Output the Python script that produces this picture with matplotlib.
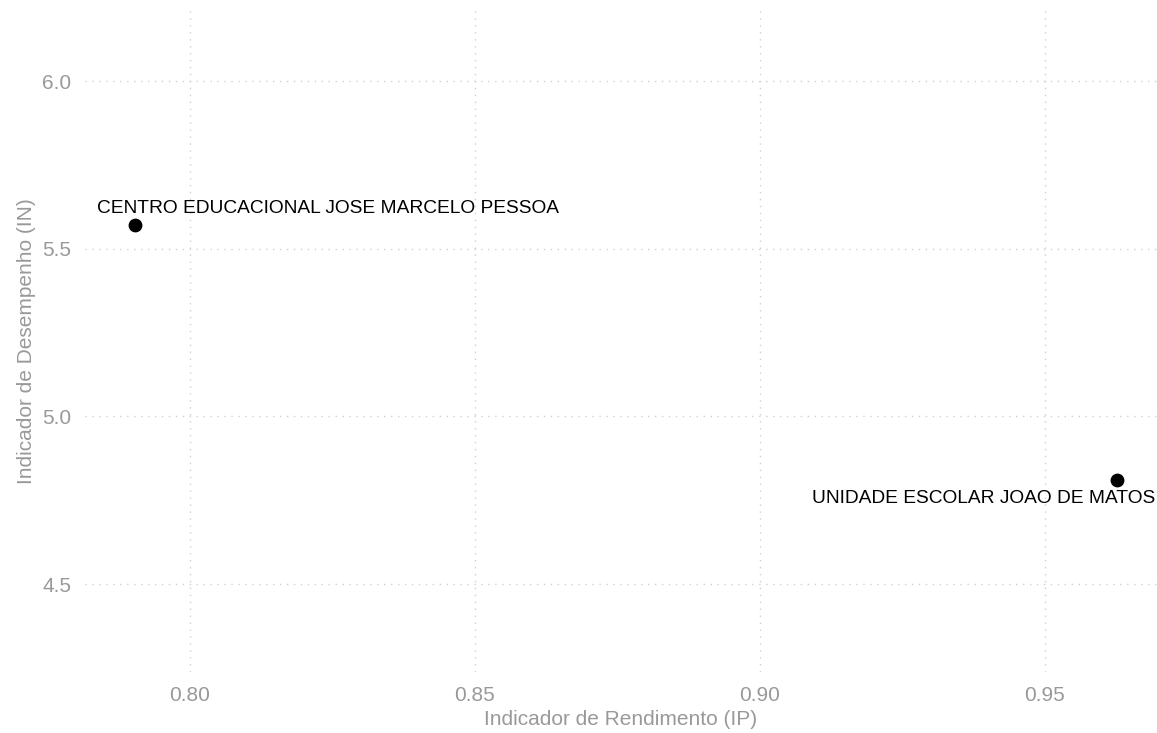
import matplotlib.pyplot as plt

plt.rcParams['font.family'] = ['Liberation Sans', 'DejaVu Sans']

# data
escolas = ["CENTRO EDUCACIONAL JOSE MARCELO PESSOA", "UNIDADE ESCOLAR JOAO DE MATOS"]
ip = [0.7904, 0.9626]
idn = [5.571, 4.810]
offsets = [(139, 12), (-96, -13)]  # label offsets in points

fig = plt.figure(figsize=(11.57, 7.33), dpi=100)
ax = fig.add_axes([85 / 1157, 61 / 733, 1072 / 1157, 662 / 733])

ax.scatter(ip, idn, s=80, color="black", zorder=3)
for nome, x, y, off in zip(escolas, ip, idn, offsets):
    ax.annotate(nome, (x, y), xytext=off, textcoords="offset points",
                ha="center", va="center", fontsize=13.8, color="black")

ax.set_xlim(0.7816, 0.9697)
ax.set_ylim(4.238, 6.212)
ax.set_xticks([0.80, 0.85, 0.90, 0.95])
ax.set_xticklabels(["0.80", "0.85", "0.90", "0.95"])
ax.set_yticks([4.5, 5.0, 5.5, 6.0])
ax.set_yticklabels(["4.5", "5.0", "5.5", "6.0"])

ax.grid(True, linestyle=(0, (1, 4)), color="#d0d0d0", linewidth=1)
ax.set_axisbelow(True)
for s in ax.spines.values():
    s.set_visible(False)
ax.tick_params(length=0, labelsize=15, labelcolor="#999999", pad=10)

ax.set_xlabel("Indicador de Rendimento (IP)", fontsize=15, color="#999999", labelpad=4)
ax.set_ylabel("Indicador de Desempenho (IN)", fontsize=15, color="#999999", labelpad=4)

fig.savefig("out.png", dpi=100)
